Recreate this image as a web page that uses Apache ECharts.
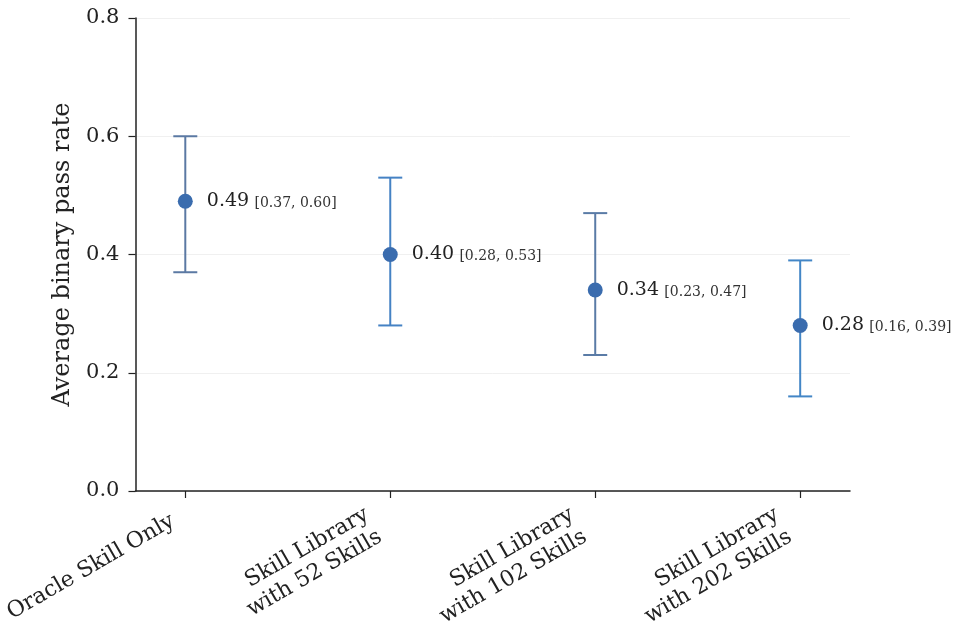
<!DOCTYPE html>
<html>
<head>
<meta charset="utf-8">
<script src="https://cdn.jsdelivr.net/npm/echarts@6/dist/echarts.min.js"></script>
<style>
  html, body { margin: 0; padding: 0; background: #fff; }
  #chart { width: 966px; height: 634px; }
</style>
</head>
<body>
<div id="chart"></div>
<script>
// categories and values
const categories = [
  'Oracle Skill Only',
  'Skill Library\nwith 52 Skills',
  'Skill Library\nwith 102 Skills',
  'Skill Library\nwith 202 Skills'
]
const means = [0.49, 0.40, 0.34, 0.28]
const lows = [0.37, 0.28, 0.23, 0.16]
const highs = [0.60, 0.53, 0.47, 0.39]

const serif = 'DejaVu Serif'
const pointColor = '#3a6cae'
const barColors = ['#5b79a3', '#4582c4', '#5a7ba6', '#4386c6']

const positions = categories.map((c, i) => i)
// one-line and two-line tick labels sit at different depths, so each gets its own axis
const oneLine = positions.filter(i => categories[i].indexOf('\n') < 0)
const twoLine = positions.filter(i => categories[i].indexOf('\n') >= 0)

/**
 * error bar: vertical line with two caps
 */
function renderErrorBar(params, api) {
  const x = api.value(0)
  const top = api.coord([x, api.value(2)])
  const bot = api.coord([x, api.value(1)])
  const cap = 12
  const style = { stroke: barColors[params.dataIndex], lineWidth: 2 }
  return {
    type: 'group',
    children: [
      { type: 'line', shape: { x1: top[0], y1: top[1], x2: bot[0], y2: bot[1] }, style: style },
      { type: 'line', shape: { x1: top[0] - cap, y1: top[1], x2: top[0] + cap, y2: top[1] }, style: style },
      { type: 'line', shape: { x1: bot[0] - cap, y1: bot[1], x2: bot[0] + cap, y2: bot[1] }, style: style }
    ]
  }
}

function catLabel(values, margin, padding) {
  return {
    customValues: values,
    rotate: 30,
    margin: margin,
    padding: padding,
    fontFamily: serif,
    fontSize: 22,
    lineHeight: 26,
    color: '#222',
    align: 'right',
    verticalAlign: 'bottom',
    formatter: v => categories[Math.round(v)]
  }
}

let option = {
  animation: false,
  backgroundColor: '#fff',
  grid: { left: 134, right: 116, top: 18, bottom: 143 },
  xAxis: [
    {
      type: 'value',
      position: 'bottom',
      min: -0.243,
      max: 3.243,
      splitLine: { show: false },
      axisLine: { show: true, onZero: false, lineStyle: { color: '#222', width: 1.5 } },
      axisTick: { show: true, customValues: positions, length: 7, lineStyle: { color: '#222', width: 1.2 } },
      axisLabel: catLabel(oneLine, 40, [0, 5, 3, 0])
    },
    {
      type: 'value',
      position: 'bottom',
      offset: 0,
      min: -0.243,
      max: 3.243,
      splitLine: { show: false },
      axisLine: { show: false, onZero: false },
      axisTick: { show: false },
      axisLabel: catLabel(twoLine, 56, [0, 3, 2, 0])
    }
  ],
  yAxis: {
    type: 'value',
    min: 0,
    max: 0.8,
    interval: 0.2,
    name: 'Average binary pass rate',
    nameLocation: 'middle',
    nameGap: 60,
    nameTextStyle: { fontFamily: serif, fontSize: 24, color: '#222' },
    axisLine: { show: true, onZero: false, lineStyle: { color: '#222', width: 1.5 } },
    axisTick: { show: true, length: 7, lineStyle: { color: '#222', width: 1.2 } },
    axisLabel: {
      fontFamily: serif,
      fontSize: 21,
      color: '#222',
      margin: 16,
      formatter: v => v.toFixed(1)
    },
    splitLine: { show: true, lineStyle: { color: '#f0f0f0', width: 1 } }
  },
  series: [
    {
      type: 'custom',
      renderItem: renderErrorBar,
      encode: { x: 0, y: [1, 2] },
      data: positions.map(i => [i, lows[i], highs[i]]),
      z: 2
    },
    {
      type: 'scatter',
      symbolSize: 15,
      itemStyle: { color: pointColor, opacity: 1 },
      data: positions.map(i => [i, means[i]]),
      z: 3,
      label: {
        show: true,
        position: 'right',
        distance: 14,
        formatter: p => {
          const i = p.dataIndex
          return '{m|' + means[i].toFixed(2) + '} {ci|[' + lows[i].toFixed(2) + ', ' + highs[i].toFixed(2) + ']}'
        },
        rich: {
          m: { fontFamily: serif, fontSize: 19, color: '#222' },
          ci: { fontFamily: serif, fontSize: 14, color: '#333', padding: [4, 0, 0, 2] }
        }
      }
    }
  ]
}

var myChart = echarts.init(document.getElementById('chart'), null, { renderer: 'canvas' })
myChart.setOption(option, true)
</script>
</body>
</html>
